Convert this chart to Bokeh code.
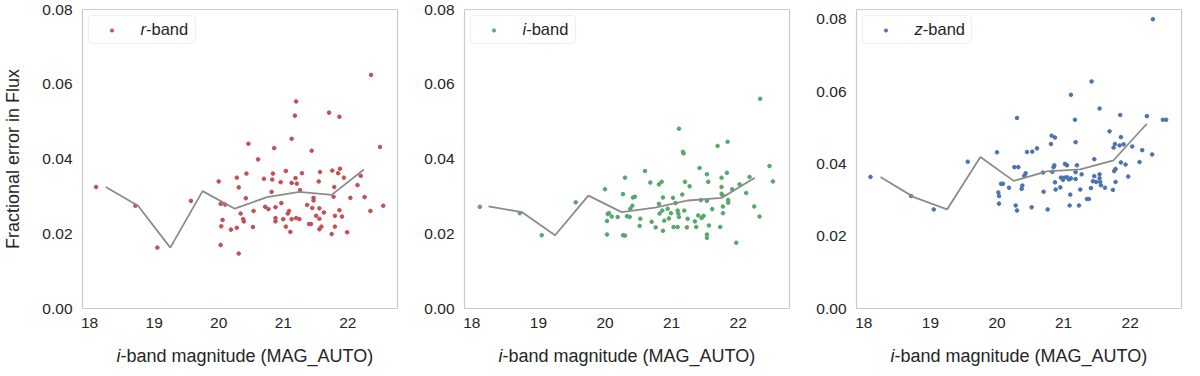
from bokeh.plotting import figure
from bokeh.layouts import row
from bokeh.models import Range1d, FixedTicker, PrintfTickFormatter, Legend, LegendItem
from bokeh.core.properties import value
from bokeh.embed import file_html
from bokeh.resources import INLINE

# ---------------- data ----------------
bin_centers = [18.25, 18.75, 19.25, 19.75, 20.25, 20.75, 21.25, 21.75, 22.25]
r_median = [0.0325, 0.0275, 0.0163, 0.0314, 0.0267, 0.0298, 0.0312, 0.0304, 0.0372]
i_median = [0.0273, 0.0258, 0.0196, 0.0302, 0.0258, 0.0270, 0.0289, 0.0296, 0.0350]
z_median = [0.0364, 0.0308, 0.0274, 0.0419, 0.0353, 0.0379, 0.0385, 0.0410, 0.0511]

r_mag = [18.10, 18.71, 19.05, 19.57, 20.00, 20.03, 20.10, 20.06, 20.04, 20.03, 20.19, 20.28,
         20.31, 20.28, 20.34, 20.38, 20.39, 20.31, 20.42, 20.43, 20.46, 20.53, 20.54, 20.61,
         20.70, 20.72, 20.77, 20.82, 20.83, 20.84, 20.86, 20.88, 20.88, 20.88, 20.96, 20.97,
         21.00, 21.04, 21.04, 21.07, 21.09, 21.11, 21.13, 21.13, 21.13, 21.18, 21.20, 21.19,
         21.21, 21.20, 21.25, 21.26, 21.29, 21.37, 21.40, 21.43, 21.44, 21.45, 21.47, 21.47,
         21.51, 21.55, 21.56, 21.56, 21.57, 21.56, 21.59, 21.63, 21.71, 21.76, 21.75, 21.78,
         21.79, 21.80, 21.80, 21.85, 21.87, 21.88, 21.87, 21.91, 21.94, 21.99, 22.04, 22.15,
         22.20, 22.26, 22.35, 22.36, 22.50, 22.55]
r_err = [0.0325, 0.0275, 0.0163, 0.0288, 0.0340, 0.0280, 0.0278, 0.0237, 0.0220, 0.0170, 0.0211, 0.0350,
         0.0324, 0.0216, 0.0254, 0.0239, 0.0233, 0.0147, 0.0295, 0.0361, 0.0441, 0.0218, 0.0261, 0.0399,
         0.0347, 0.0272, 0.0266, 0.0312, 0.0345, 0.0361, 0.0429, 0.0271, 0.0242, 0.0233, 0.0338, 0.0282,
         0.0239, 0.0368, 0.0219, 0.0254, 0.0261, 0.0205, 0.0239, 0.0336, 0.0454, 0.0516, 0.0554, 0.0349,
         0.0334, 0.0242, 0.0239, 0.0317, 0.0362, 0.0277, 0.0226, 0.0226, 0.0422, 0.0269, 0.0296, 0.0289,
         0.0248, 0.0340, 0.0268, 0.0240, 0.0365, 0.0212, 0.0219, 0.0257, 0.0524, 0.0369, 0.0199, 0.0299,
         0.0325, 0.0219, 0.0248, 0.0362, 0.0513, 0.0374, 0.0263, 0.0246, 0.0350, 0.0204, 0.0296, 0.0330,
         0.0355, 0.0298, 0.0261, 0.0625, 0.0432, 0.0275]

i_mag = [18.12, 18.72, 19.05, 19.56, 20.00, 20.03, 20.03, 20.04, 20.06, 20.10, 20.19, 20.27,
         20.30, 20.27, 20.30, 20.33, 20.37, 20.38, 20.41, 20.42, 20.45, 20.52, 20.53, 20.60,
         20.68, 20.70, 20.76, 20.81, 20.85, 20.81, 20.82, 20.86, 20.87, 20.87, 20.89, 20.94,
         20.96, 20.99, 21.02, 21.03, 21.06, 21.09, 21.09, 21.10, 21.11, 21.11, 21.17, 21.18,
         21.16, 21.19, 21.20, 21.23, 21.24, 21.27, 21.35, 21.37, 21.40, 21.42, 21.44, 21.45,
         21.48, 21.53, 21.53, 21.55, 21.53, 21.53, 21.56, 21.61, 21.69, 21.73, 21.75, 21.75,
         21.75, 21.76, 21.77, 21.77, 21.83, 21.84, 21.85, 21.85, 21.91, 21.97, 22.02, 22.12,
         22.17, 22.24, 22.32, 22.33, 22.47, 22.52]
i_err = [0.0272, 0.0255, 0.0196, 0.0284, 0.0319, 0.0198, 0.0234, 0.0253, 0.0255, 0.0246, 0.0245, 0.0306,
         0.0350, 0.0196, 0.0195, 0.0247, 0.0245, 0.0267, 0.0275, 0.0297, 0.0299, 0.0221, 0.0240, 0.0368,
         0.0337, 0.0232, 0.0217, 0.0332, 0.0339, 0.0280, 0.0254, 0.0262, 0.0208, 0.0297, 0.0235, 0.0267,
         0.0241, 0.0255, 0.0296, 0.0218, 0.0282, 0.0218, 0.0262, 0.0254, 0.0481, 0.0245, 0.0419, 0.0415,
         0.0305, 0.0262, 0.0339, 0.0217, 0.0240, 0.0327, 0.0233, 0.0218, 0.0249, 0.0376, 0.0290, 0.0242,
         0.0248, 0.0359, 0.0288, 0.0339, 0.0198, 0.0189, 0.0222, 0.0266, 0.0435, 0.0218, 0.0350, 0.0325,
         0.0307, 0.0304, 0.0255, 0.0273, 0.0363, 0.0446, 0.0290, 0.0283, 0.0319, 0.0176, 0.0332, 0.0309,
         0.0352, 0.0273, 0.0246, 0.0561, 0.0381, 0.0340]

z_mag = [18.10, 18.71, 19.05, 19.56, 20.00, 20.02, 20.03, 20.03, 20.06, 20.09, 20.18, 20.26,
         20.32, 20.30, 20.28, 20.30, 20.37, 20.38, 20.41, 20.43, 20.45, 20.52, 20.53, 20.60,
         20.70, 20.69, 20.76, 20.81, 20.82, 20.87, 20.83, 20.85, 20.86, 20.87, 20.88, 20.95,
         20.96, 20.99, 21.01, 21.02, 21.05, 21.05, 21.08, 21.09, 21.10, 21.11, 21.11, 21.17,
         21.18, 21.18, 21.18, 21.20, 21.23, 21.25, 21.27, 21.35, 21.38, 21.41, 21.42, 21.44,
         21.46, 21.46, 21.49, 21.54, 21.54, 21.54, 21.55, 21.56, 21.62, 21.69, 21.74, 21.75,
         21.77, 21.76, 21.78, 21.78, 21.84, 21.85, 21.86, 21.86, 21.90, 21.93, 21.97, 22.03,
         22.14, 22.18, 22.25, 22.33, 22.34, 22.49, 22.54]
z_err = [0.0364, 0.0311, 0.0274, 0.0406, 0.0432, 0.0321, 0.0311, 0.0290, 0.0345, 0.0345, 0.0334, 0.0391,
         0.0391, 0.0527, 0.0285, 0.0271, 0.0331, 0.0340, 0.0367, 0.0374, 0.0433, 0.0280, 0.0434, 0.0443,
         0.0323, 0.0376, 0.0274, 0.0455, 0.0478, 0.0473, 0.0378, 0.0391, 0.0396, 0.0349, 0.0329, 0.0335,
         0.0362, 0.0356, 0.0362, 0.0400, 0.0396, 0.0363, 0.0357, 0.0285, 0.0315, 0.0591, 0.0360, 0.0522,
         0.0460, 0.0377, 0.0358, 0.0396, 0.0285, 0.0329, 0.0371, 0.0303, 0.0303, 0.0333, 0.0628, 0.0352,
         0.0413, 0.0366, 0.0350, 0.0553, 0.0371, 0.0360, 0.0350, 0.0341, 0.0334, 0.0490, 0.0328, 0.0445,
         0.0455, 0.0380, 0.0386, 0.0350, 0.0451, 0.0535, 0.0474, 0.0404, 0.0454, 0.0398, 0.0365, 0.0448,
         0.0405, 0.0438, 0.0532, 0.0426, 0.0800, 0.0522, 0.0522]

x_ticks = [18, 19, 20, 21, 22]
y_ticks = [0.0, 0.02, 0.04, 0.06, 0.08]
band_names = ["r", "i", "z"]
band_colors = ["#c44e52", "#55a868", "#4c72b0"]
x_label_italic = "i"
x_label_rest = "-band magnitude (MAG_AUTO)"
y_label = "Fractional error in Flux"

# ---------------- styling ----------------
FONT = "Liberation Sans"
TXT = "#262626"
FRAME_W = 325
FIG_H = 368
TOP_B = 9
BOT_B = 60
FRAME_H = FIG_H - TOP_B - BOT_B
X0, X1 = 17.89, 22.77
LEG_M = 6


def add_text(p, txt, dx, dy, size, italic, align):
    # anchored at the frame's bottom-left corner, positioned by pixel offsets
    p.text(x=[X0], y=[0.0], text=[txt], x_offset=dx, y_offset=dy,
           text_font=value(FONT), text_font_size=value(size),
           text_font_style="italic" if italic else "normal",
           text_color=TXT, text_align=align, text_baseline="middle",
           level="overlay")


def make_panel(mag, err, med, color, band, ymax, left_b, right_b, ylab, label_w, band_w):
    p = figure(width=left_b + FRAME_W + right_b, height=FIG_H,
               x_range=Range1d(X0, X1), y_range=Range1d(0, ymax),
               output_backend="svg", toolbar_location=None,
               min_border_left=left_b, min_border_right=right_b,
               min_border_top=TOP_B, min_border_bottom=BOT_B)
    p.grid.visible = False
    p.outline_line_color = "#cccccc"
    p.outline_line_width = 1.2
    p.background_fill_color = "white"
    p.border_fill_color = "white"

    for ax in (p.xaxis[0], p.yaxis[0]):
        ax.axis_line_color = None
        ax.major_tick_line_color = None
        ax.minor_tick_line_color = None
        ax.major_tick_out = 0
        ax.major_tick_in = 0
        ax.major_label_text_font = FONT
        ax.major_label_text_font_size = "15.5px"
        ax.major_label_text_color = TXT
    p.xaxis.ticker = FixedTicker(ticks=x_ticks)
    p.xaxis.major_label_standoff = 9
    p.yaxis.ticker = FixedTicker(ticks=y_ticks)
    p.yaxis.formatter = PrintfTickFormatter(format="%.2f")
    p.yaxis.major_label_standoff = 10
    if ylab:
        p.yaxis.axis_label = y_label
        p.yaxis.axis_label_text_font = FONT
        p.yaxis.axis_label_text_font_size = "18px"
        p.yaxis.axis_label_text_font_style = "normal"
        p.yaxis.axis_label_text_color = TXT
        p.yaxis.axis_label_standoff = 16

    sc = p.scatter(mag, err, size=3.6, fill_color=color, line_color=color)
    p.line(bin_centers, med, line_color="#8c8c8c", line_width=1.8)

    leg = Legend(items=[LegendItem(label=" ", renderers=[sc])],
                 location="top_left", margin=LEG_M, padding=7,
                 glyph_width=31, glyph_height=8, label_standoff=14,
                 label_width=label_w, label_height=13,
                 label_text_font_size="10px",
                 border_line_color="#dddddd", border_line_width=1,
                 background_fill_color="white", background_fill_alpha=0)
    if "border_radius" in Legend.properties():
        leg.border_radius = 4
    p.add_layout(leg)

    # legend text
    ty = -(FRAME_H - LEG_M - 13.5)
    add_text(p, band, LEG_M + 52, ty, "16.5px", True, "left")
    add_text(p, "-band", LEG_M + 52 + band_w, ty, "16.5px", False, "left")

    # x-axis label
    lx = FRAME_W / 2 - 124.5
    add_text(p, x_label_italic, lx, 47, "18px", True, "right")
    add_text(p, x_label_rest, lx, 47, "18px", False, "left")
    return p


p1 = make_panel(r_mag, r_err, r_median, band_colors[0], band_names[0], 0.08, 72, 5, True, 47, 5.5)
p2 = make_panel(i_mag, i_err, i_median, band_colors[1], band_names[1], 0.08, 62, 5, False, 45, 3.7)
p3 = make_panel(z_mag, z_err, z_median, band_colors[2], band_names[2], 0.0827, 62, 3, False, 49, 8.3)

layout = row(p1, p2, p3)
open("out.html", "w").write(file_html(layout, INLINE))
